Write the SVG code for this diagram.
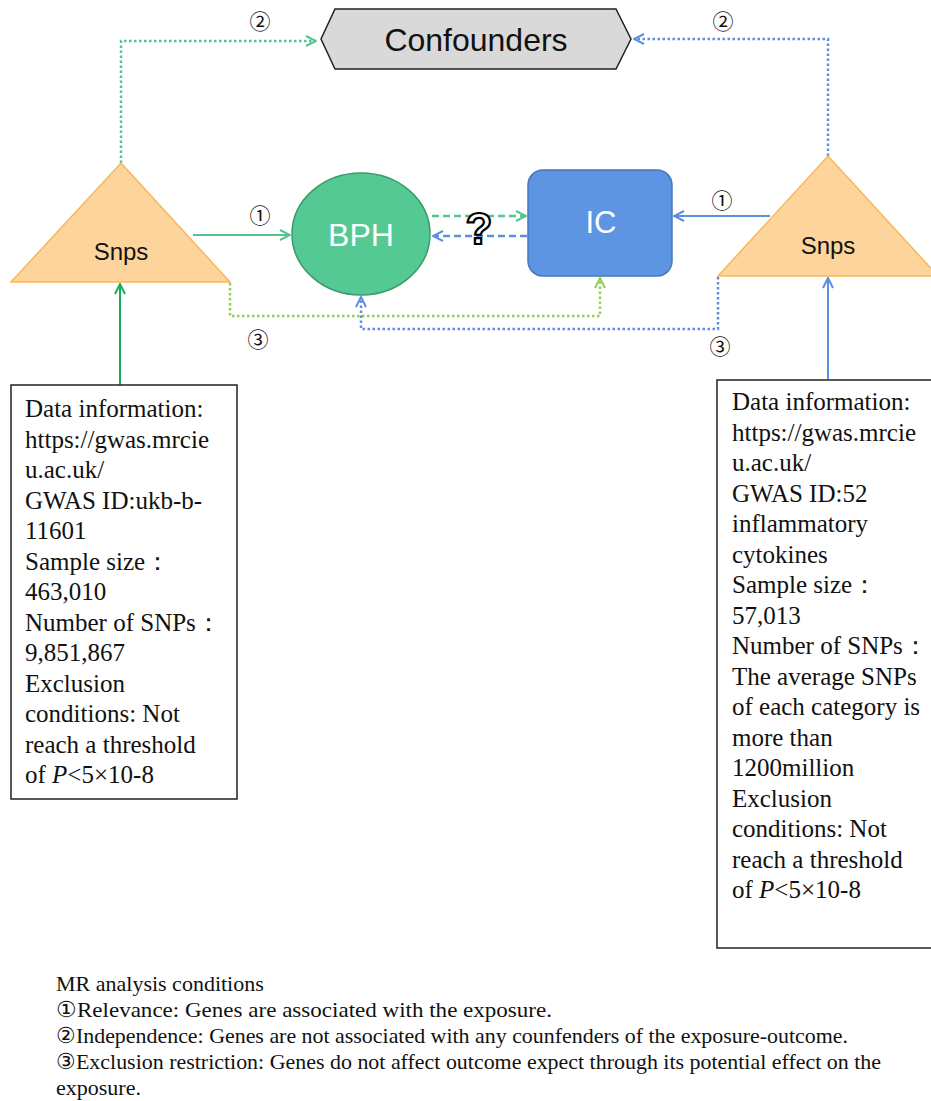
<svg xmlns="http://www.w3.org/2000/svg" width="931" height="1101" viewBox="0 0 931 1101">
<defs>
<style>
.sans{font-family:"Liberation Sans",Arial,sans-serif;}
.serif{font-family:"Liberation Serif","Times New Roman","DejaVu Serif",serif;font-size:25px;fill:#111;}
.foot{font-family:"Liberation Serif","Times New Roman","DejaVu Serif",serif;font-size:22px;fill:#111;}
.num{font-family:"Noto Sans CJK SC","DejaVu Sans",sans-serif;font-size:21px;fill:#111;text-anchor:middle;}
.con{fill:none;stroke-width:2;}
.g{stroke:#52c58c;}
.b{stroke:#5b8fe0;}
.l{stroke:#8fd14f;}
.dg{stroke:#1aaf54;}
.dot{stroke-dasharray:2.5 2.5;stroke-width:2.5;}
.dash{stroke-dasharray:7 4;stroke-width:2.5;}
.box{fill:#fff;stroke:#222;stroke-width:1.5;}
.tri{fill:#fdd49b;stroke:#f7b85a;stroke-width:1.5;}
</style>
<marker id="ag" viewBox="0 0 12 12" refX="11" refY="6" markerWidth="12" markerHeight="12" markerUnits="userSpaceOnUse" orient="auto"><path d="M1,1 L11,6 L1,11" fill="none" stroke="#52c58c" stroke-width="2"/></marker>
<marker id="ab" viewBox="0 0 12 12" refX="11" refY="6" markerWidth="12" markerHeight="12" markerUnits="userSpaceOnUse" orient="auto"><path d="M1,1 L11,6 L1,11" fill="none" stroke="#5b8fe0" stroke-width="2"/></marker>
<marker id="al" viewBox="0 0 12 12" refX="11" refY="6" markerWidth="12" markerHeight="12" markerUnits="userSpaceOnUse" orient="auto"><path d="M1,1 L11,6 L1,11" fill="none" stroke="#8fd14f" stroke-width="2"/></marker>
<marker id="adg" viewBox="0 0 12 12" refX="11" refY="6" markerWidth="12" markerHeight="12" markerUnits="userSpaceOnUse" orient="auto"><path d="M1,1 L11,6 L1,11" fill="none" stroke="#1aaf54" stroke-width="2"/></marker>
</defs>
<rect width="931" height="1101" fill="#fff"/>

<g id="connectors">
<path class="con g dot" d="M121,163 V41 H316" marker-end="url(#ag)"/>
<path class="con b dot" d="M828,156 V39 H634" marker-end="url(#ab)"/>
<path class="con g" d="M193,235 H290" marker-end="url(#ag)"/>
<path class="con b" d="M770,216 H674" marker-end="url(#ab)"/>
<path class="con g dash" d="M432,216 H526" marker-end="url(#ag)"/>
<path class="con b dash" d="M527,236 H433" marker-end="url(#ab)"/>
<path class="con l dot" d="M230,283 V316 H600 V278" marker-end="url(#al)"/>
<path class="con b dot" d="M718,277 V329 H361 V297" marker-end="url(#ab)"/>
<path class="con dg" d="M120,385 V284" marker-end="url(#adg)"/>
<path class="con b" d="M828,379 V278" marker-end="url(#ab)"/>
<text class="num" x="260" y="29">②</text>
<text class="num" x="723" y="29">②</text>
<text class="num" x="260" y="223">①</text>
<text class="num" x="722" y="208">①</text>
<text class="num" x="258" y="347">③</text>
<text class="num" x="720" y="354">③</text>
<text x="479" y="244" class="sans" font-size="44" font-weight="bold" text-anchor="middle" fill="#fff" stroke="#000" stroke-width="2.2">?</text>
</g>

<g id="confounders">
<polygon points="335,9 616,9 631,39 616,69 335,69 321,39" fill="#d9d9d9" stroke="#222" stroke-width="1.5"/>
<text x="476" y="51" class="sans" font-size="32" text-anchor="middle" fill="#111">Confounders</text>
</g>

<g id="snps-left">
<polygon class="tri" points="121,163 230,282 11,282"/>
<text x="121" y="260" class="sans" font-size="24" text-anchor="middle" fill="#111">Snps</text>
</g>

<g id="snps-right">
<polygon class="tri" points="828,156 938,276 718,276"/>
<text x="828" y="254" class="sans" font-size="24" text-anchor="middle" fill="#111">Snps</text>
</g>

<g id="bph">
<ellipse cx="361" cy="234" rx="69" ry="61" fill="#55c993" stroke="#3a9a68" stroke-width="1.5"/>
<text x="361" y="246" class="sans" font-size="32" text-anchor="middle" fill="#fff">BPH</text>
</g>

<g id="ic">
<rect x="528" y="170" width="144" height="106" rx="15" fill="#5e95e3" stroke="#4a76b9" stroke-width="1.5"/>
<text x="601" y="233" class="sans" font-size="31" text-anchor="middle" fill="#fff">IC</text>
</g>

<g id="data-left">
<rect class="box" x="11" y="385" width="226" height="414"/>
<text class="serif">
<tspan x="25" y="417">Data information:</tspan>
<tspan x="25" y="447.5">https://gwas.mrcie</tspan>
<tspan x="25" y="478">u.ac.uk/</tspan>
<tspan x="25" y="508.5">GWAS ID:ukb-b-</tspan>
<tspan x="25" y="539">11601</tspan>
<tspan x="25" y="569.5">Sample size：</tspan>
<tspan x="25" y="600">463,010</tspan>
<tspan x="25" y="630.5">Number of SNPs：</tspan>
<tspan x="25" y="661">9,851,867</tspan>
<tspan x="25" y="691.5">Exclusion</tspan>
<tspan x="25" y="722">conditions: Not</tspan>
<tspan x="25" y="752.5">reach a threshold</tspan>
<tspan x="25" y="783">of <tspan font-style="italic">P</tspan>&lt;5×10-8</tspan>
</text>
</g>

<g id="data-right">
<rect class="box" x="717" y="380" width="230" height="568"/>
<text class="serif">
<tspan x="732" y="410">Data information:</tspan>
<tspan x="732" y="440.5">https://gwas.mrcie</tspan>
<tspan x="732" y="471">u.ac.uk/</tspan>
<tspan x="732" y="501.5">GWAS ID:52</tspan>
<tspan x="732" y="532">inflammatory</tspan>
<tspan x="732" y="562.5">cytokines</tspan>
<tspan x="732" y="593">Sample size：</tspan>
<tspan x="732" y="623.5">57,013</tspan>
<tspan x="732" y="654">Number of SNPs：</tspan>
<tspan x="732" y="684.5">The average SNPs</tspan>
<tspan x="732" y="715">of each category is</tspan>
<tspan x="732" y="745.5">more than</tspan>
<tspan x="732" y="776">1200million</tspan>
<tspan x="732" y="806.5">Exclusion</tspan>
<tspan x="732" y="837">conditions: Not</tspan>
<tspan x="732" y="867.5">reach a threshold</tspan>
<tspan x="732" y="898">of <tspan font-style="italic">P</tspan>&lt;5×10-8</tspan>
</text>
</g>

<g id="footnote">
<text class="foot" x="56" y="991">MR analysis conditions</text>
<text class="foot" x="56" y="1017" textLength="496" lengthAdjust="spacingAndGlyphs">①Relevance: Genes are associated with the exposure.</text>
<text class="foot" x="56" y="1043" textLength="792" lengthAdjust="spacingAndGlyphs">②Independence: Genes are not associated with any counfenders of the exposure-outcome.</text>
<text class="foot" x="56" y="1069" textLength="825" lengthAdjust="spacingAndGlyphs">③Exclusion restriction: Genes do not affect outcome expect through its potential effect on the</text>
<text class="foot" x="56" y="1095">exposure.</text>
</g>
</svg>
